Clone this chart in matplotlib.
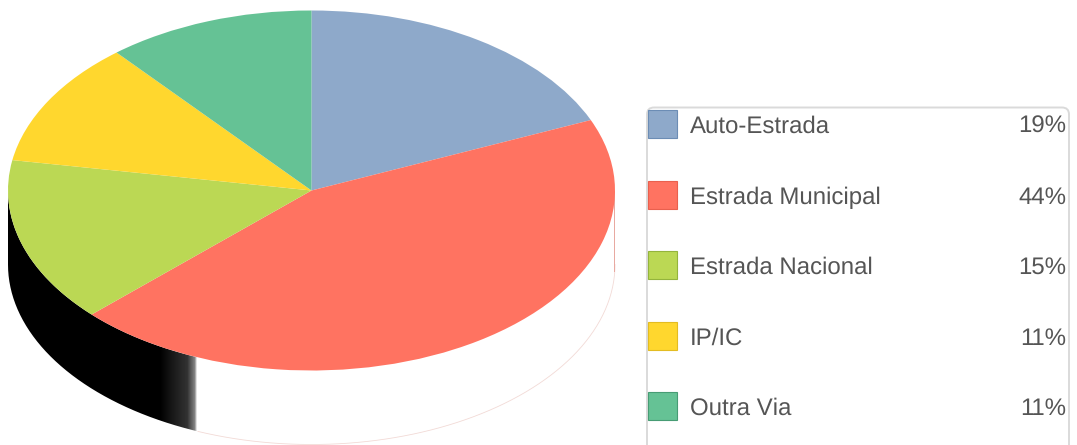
#!/usr/bin/env python3
# -*- coding: utf-8 -*-

import matplotlib
matplotlib.use('Agg')
import matplotlib.pyplot as plt
from matplotlib.patches import FancyBboxPatch, PathPatch, Rectangle
from matplotlib.path import Path
import numpy as np

# Data
categories = ['Auto-Estrada', 'Estrada Municipal', 'Estrada Nacional',
              'IP/IC', 'Outra Via']
shares = [18.6, 44.3, 14.8, 11.2, 11.1]
share_labels = ['19%', '44%', '15%', '11%', '11%']
colors = ['#8EA9CA', '#FF7361', '#BBD854', '#FFD72E', '#65C295']
edges = ['#6C8DB5', '#E9604E', '#94B43C', '#E3BC22', '#479C74']

W, H = 1077, 445
CX, CY, RX, RY = 311.5, 190.5, 303.5, 180.0
DEPTH = 74.0

plt.rcParams['font.family'] = ['Liberation Sans', 'DejaVu Sans']
plt.rcParams['text.hinting'] = 'no_hinting'
plt.rcParams['text.hinting_factor'] = 1

fig = plt.figure(figsize=(W / 100, H / 100), dpi=100)

# Pixel-space axes for the pie side and the legend
ax = fig.add_axes([0, 0, 1, 1])
ax.set_xlim(0, W)
ax.set_ylim(H, 0)
ax.axis('off')

# Side of the pie: black fading out to white
t = np.linspace(np.pi, 0, 300)
arc_x = CX + RX * np.cos(t)
arc_y = CY + RY * np.sin(t)
wall = np.column_stack([np.r_[arc_x, arc_x[::-1]],
                        np.r_[arc_y, arc_y[::-1] + DEPTH]])
clip = PathPatch(Path(np.vstack([wall, wall[0]])), transform=ax.transData,
                 facecolor='none', edgecolor='none')
ax.add_patch(clip)

cols = np.arange(0, 260)
shade = np.interp(cols, [0, 160, 170, 187, 194, 195.5, 196.5],
                  [0, 0, 0.08, 0.2, 0.5, 0.75, 1.0])
img = ax.imshow(shade[np.newaxis, :], cmap='gray', vmin=0, vmax=1,
                extent=(0, 260, H, 0), aspect='auto', zorder=1,
                interpolation='nearest')
img.set_clip_path(clip)
ax.set_xlim(0, W)
ax.set_ylim(H, 0)

# Faint outline of the white part of the side
outer = arc_x > 196
ax.plot(arc_x[outer], arc_y[outer] + DEPTH, color='#F2DAD6', lw=0.6, zorder=2)
ax.plot([CX + RX - 0.8] * 2, [CY, CY + DEPTH + 6], color='#E8A79F', lw=0.7,
        zorder=2)

# Top of the pie
pie_ax = fig.add_axes([(CX - RX) / W, 1 - (CY + RY) / H, 2 * RX / W, 2 * RY / H])
pie_ax.pie(shares, colors=colors, startangle=90, counterclock=False, radius=1)
pie_ax.set_aspect('auto')
pie_ax.set_xlim(-1, 1)
pie_ax.set_ylim(-1, 1)
pie_ax.patch.set_alpha(0)

# Legend box, runs off the bottom of the image
leg_ax = fig.add_axes([0, 0, 1, 1])
leg_ax.set_xlim(0, W)
leg_ax.set_ylim(H, 0)
leg_ax.axis('off')
leg_ax.patch.set_alpha(0)
leg_ax.add_patch(FancyBboxPatch((647, 107.5), 422, 400,
                                boxstyle='round,pad=0,rounding_size=7',
                                facecolor='none', edgecolor='#DADADA', lw=1.4))

for i, (name, label) in enumerate(zip(categories, share_labels)):
    top = 110 + i * 70.5
    leg_ax.add_patch(Rectangle((648, top), 29, 28, facecolor=colors[i],
                               edgecolor=edges[i], lw=0.8))
    mid = top + 17
    leg_ax.text(690, mid, name, fontsize=17.25, color='#555555', va='center',
                ha='left')
    leg_ax.text(1066, mid, label, fontsize=17.25, color='#555555',
                va='center', ha='right')

fig.savefig('out.png', dpi=100)
